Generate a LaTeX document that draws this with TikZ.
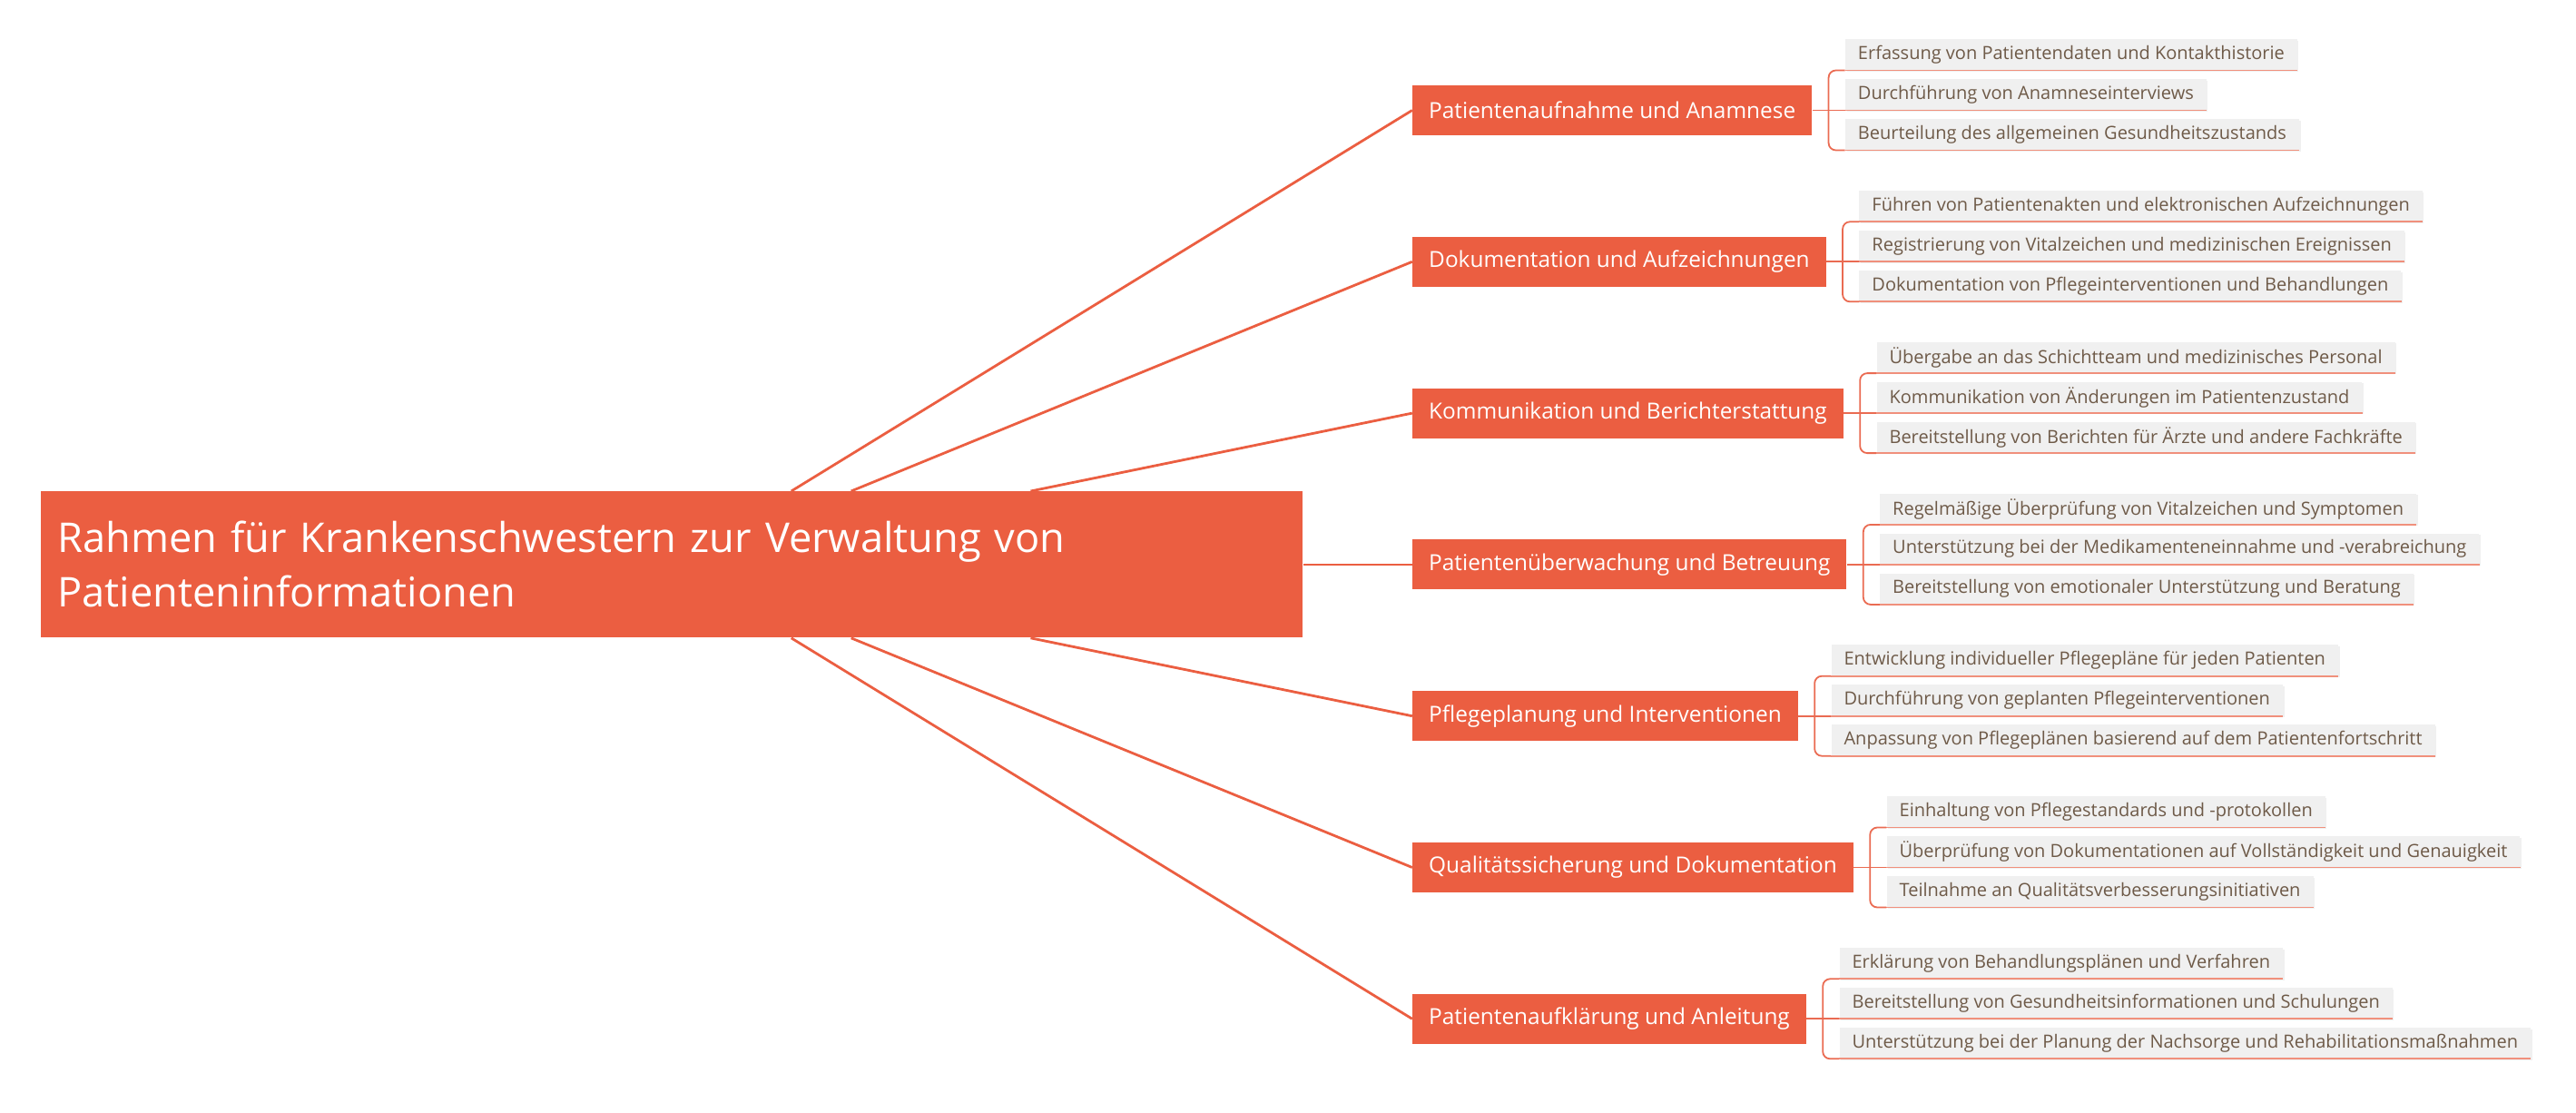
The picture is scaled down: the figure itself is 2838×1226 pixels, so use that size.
\documentclass[tikz,border=0pt]{standalone}
\usepackage{fontspec}
\setmainfont{Open Sans}
\usepackage{xcolor}
\usepackage{tikz}
\usetikzlibrary{positioning, shadows, calc}
\definecolor{mapred}{HTML}{EB5E41}
\definecolor{brline}{HTML}{EA6B52}
\definecolor{leafline}{HTML}{F0907C}
\definecolor{leafgray}{HTML}{F0F0F0}
\definecolor{leaftext}{HTML}{6E5A48}
\tikzset{
    base/.style={font=\fontsize{12.2}{14}\selectfont, text=white, fill=mapred, inner sep=0pt},
    rootbox/.style={base, font=\fontsize{22.6}{30}\selectfont, align=left, text width=677pt, inner xsep=9pt, minimum height=80.5pt},
    branch/.style={base, inner xsep=9pt, minimum height=27.5pt},
    leaf/.style={font=\fontsize{10}{12}\selectfont, text=leaftext, fill=leafgray, inner xsep=7pt, inner ysep=0pt, minimum height=17pt,
        drop shadow={shadow xshift=0.8pt, shadow yshift=-0.8pt, opacity=0.12}},
    link/.style={draw=mapred, line width=1.4pt},
    bracket/.style={draw=brline, line width=0.9pt, rounded corners=4pt},
    uline/.style={draw=leafline, line width=0.9pt}
}
\begin{document}
\begin{tikzpicture}[x=0.5pt, y=-0.5pt]
    \useasboundingbox (0,0) rectangle (2838,1226);
    \node [rootbox, anchor=north west] (Root) at (45,541) {Rahmen für Krankenschwestern zur Verwaltung von\\Patienteninformationen};

    % main branches
    \node [branch, right=60pt of Root] (Watch) {Patientenüberwachung und Betreuung};
    \node [branch, above=55.5pt of Watch.north west, anchor=south west] (Comm) {Kommunikation und Berichterstattung};
    \node [branch, above=55.5pt of Comm.north west, anchor=south west] (Docu) {Dokumentation und Aufzeichnungen};
    \node [branch, above=55.5pt of Docu.north west, anchor=south west] (Intake) {Patientenaufnahme und Anamnese};
    \node [branch, below=55.5pt of Watch.south west, anchor=north west] (Plan) {Pflegeplanung und Interventionen};
    \node [branch, below=55.5pt of Plan.south west, anchor=north west] (Quality) {Qualitätssicherung und Dokumentation};
    \node [branch, below=55.5pt of Quality.south west, anchor=north west] (Teach) {Patientenaufklärung und Anleitung};

    % leaves
    \coordinate [right=9pt of Intake.east] (kIntake);
    \node [leaf, above right=22pt and 9pt of kIntake] (IntakeA) {Erfassung von Patientendaten und Kontakthistorie};
    \node [leaf, above right=0pt and 9pt of kIntake] (IntakeB) {Durchführung von Anamneseinterviews};
    \node [leaf, below right=22pt and 9pt of kIntake, anchor=south west] (IntakeC) {Beurteilung des allgemeinen Gesundheitszustands};

    \coordinate [right=9pt of Docu.east] (kDocu);
    \node [leaf, above right=22pt and 9pt of kDocu] (DocuA) {Führen von Patientenakten und elektronischen Aufzeichnungen};
    \node [leaf, above right=0pt and 9pt of kDocu] (DocuB) {Registrierung von Vitalzeichen und medizinischen Ereignissen};
    \node [leaf, below right=22pt and 9pt of kDocu, anchor=south west] (DocuC) {Dokumentation von Pflegeinterventionen und Behandlungen};

    \coordinate [right=9pt of Comm.east] (kComm);
    \node [leaf, above right=22pt and 9pt of kComm] (CommA) {Übergabe an das Schichtteam und medizinisches Personal};
    \node [leaf, above right=0pt and 9pt of kComm] (CommB) {Kommunikation von Änderungen im Patientenzustand};
    \node [leaf, below right=22pt and 9pt of kComm, anchor=south west] (CommC) {Bereitstellung von Berichten für Ärzte und andere Fachkräfte};

    \coordinate [right=9pt of Watch.east] (kWatch);
    \node [leaf, above right=22pt and 9pt of kWatch] (WatchA) {Regelmäßige Überprüfung von Vitalzeichen und Symptomen};
    \node [leaf, above right=0pt and 9pt of kWatch] (WatchB) {Unterstützung bei der Medikamenteneinnahme und -verabreichung};
    \node [leaf, below right=22pt and 9pt of kWatch, anchor=south west] (WatchC) {Bereitstellung von emotionaler Unterstützung und Beratung};

    \coordinate [right=9pt of Plan.east] (kPlan);
    \node [leaf, above right=22pt and 9pt of kPlan] (PlanA) {Entwicklung individueller Pflegepläne für jeden Patienten};
    \node [leaf, above right=0pt and 9pt of kPlan] (PlanB) {Durchführung von geplanten Pflegeinterventionen};
    \node [leaf, below right=22pt and 9pt of kPlan, anchor=south west] (PlanC) {Anpassung von Pflegeplänen basierend auf dem Patientenfortschritt};

    \coordinate [right=9pt of Quality.east] (kQuality);
    \node [leaf, above right=22pt and 9pt of kQuality] (QualityA) {Einhaltung von Pflegestandards und -protokollen};
    \node [leaf, above right=0pt and 9pt of kQuality] (QualityB) {Überprüfung von Dokumentationen auf Vollständigkeit und Genauigkeit};
    \node [leaf, below right=22pt and 9pt of kQuality, anchor=south west] (QualityC) {Teilnahme an Qualitätsverbesserungsinitiativen};

    \coordinate [right=9pt of Teach.east] (kTeach);
    \node [leaf, above right=22pt and 9pt of kTeach] (TeachA) {Erklärung von Behandlungsplänen und Verfahren};
    \node [leaf, above right=0pt and 9pt of kTeach] (TeachB) {Bereitstellung von Gesundheitsinformationen und Schulungen};
    \node [leaf, below right=22pt and 9pt of kTeach, anchor=south west] (TeachC) {Unterstützung bei der Planung der Nachsorge und Rehabilitationsmaßnahmen};

    % root links
    \draw [link] (Root) -- (Intake.west); \draw [link] (Root) -- (Docu.west);
    \draw [link] (Root) -- (Comm.west); \draw [link] (Root) -- (Watch.west);
    \draw [link] (Root) -- (Plan.west); \draw [link] (Root) -- (Quality.west);
    \draw [link] (Root) -- (Teach.west);

    % brackets and underlines
    \foreach \b in {Intake, Docu, Comm, Watch, Plan, Quality, Teach} {
        \draw [uline] (\b A.south west) -- (\b A.south east);
        \draw [uline] (\b B.south west) -- (\b B.south east);
        \draw [uline] (\b C.south west) -- (\b C.south east);
        \draw [bracket] (\b.east) -- (\b B.south west);
        \draw [bracket] (\b A.south west) -| (k\b) |- (\b C.south west);
    }
\end{tikzpicture}
\end{document}
